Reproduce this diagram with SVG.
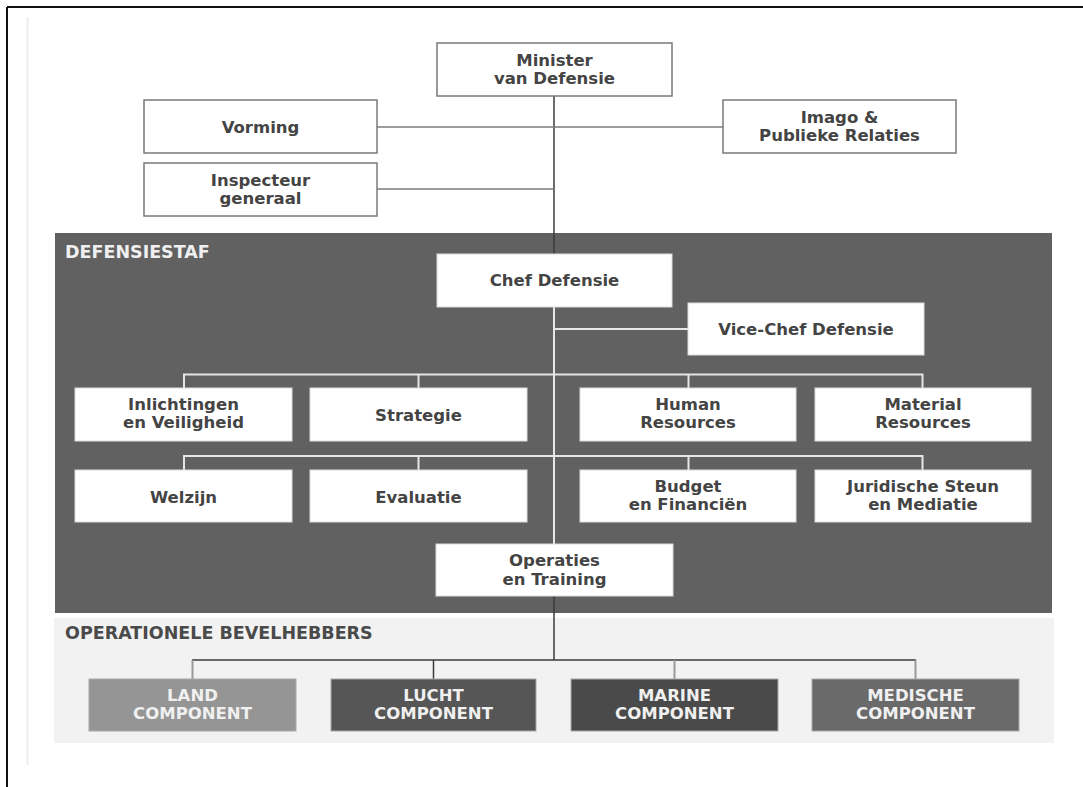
<svg xmlns="http://www.w3.org/2000/svg" width="1083" height="787" viewBox="0 0 1083 787">
<style>
  text { font-family: "DejaVu Sans", Verdana, sans-serif; font-weight: bold; font-size: 16.5px; text-anchor: middle; }
  .dark { fill: #444444; }
  .light { fill: #f0f0f0; }
  .box-out { fill: #ffffff; stroke: #7a7a7a; stroke-width: 1.5; }
  .box-in { fill: #ffffff; stroke: #dcdcdc; stroke-width: 1; }
  .comp { stroke: #a8a8a8; stroke-width: 1; }
  .section { font-size: 17.5px; text-anchor: start; }
  .c-dark { stroke: #3a3a3a; stroke-width: 1.5; fill: none; }
  .c-gray { stroke: #7a7a7a; stroke-width: 1.5; fill: none; }
  .c-white { stroke: #e6e6e6; stroke-width: 2; fill: none; }
  .c-drop { stroke: #9a9a9a; stroke-width: 2; fill: none; }
</style>
<rect x="0" y="0" width="1083" height="787" fill="#ffffff"/>
<g id="frame">
  <line x1="7" y1="7" x2="1083" y2="7" stroke="#111" stroke-width="2"/>
  <line x1="7" y1="7" x2="7" y2="787" stroke="#111" stroke-width="2"/>
  <line x1="27.5" y1="17" x2="27.5" y2="765" stroke="#eeeeee" stroke-width="2"/>
</g>
<g id="defensiestaf">
  <rect x="55" y="233" width="997" height="380" fill="#616161"/>
  <text class="section light" x="65" y="258">DEFENSIESTAF</text>
</g>
<g id="operationele-bevelhebbers">
  <rect x="54" y="618" width="1000" height="125" fill="#f2f2f2"/>
  <text class="section" x="65" y="639" fill="#4a4a4a">OPERATIONELE BEVELHEBBERS</text>
</g>
<g id="connectors">
  <line class="c-dark" x1="554" y1="96" x2="554" y2="254"/>
  <line class="c-gray" x1="377" y1="127" x2="723" y2="127"/>
  <line class="c-gray" x1="377" y1="189" x2="554" y2="189"/>
  <line class="c-white" x1="554" y1="307" x2="554" y2="544"/>
  <line class="c-white" x1="554" y1="329" x2="688" y2="329"/>
  <path class="c-white" d="M184 388 V374.5 H922.5 V388 M418.5 374.5 V388 M688.5 374.5 V388"/>
  <path class="c-white" d="M184 470 V456 H922.5 V470 M418.5 456 V470 M688.5 456 V470"/>
  <line class="c-dark" x1="554" y1="596" x2="554" y2="660"/>
  <line class="c-dark" x1="192" y1="660" x2="916" y2="660"/>
  <line class="c-drop" x1="192.5" y1="660" x2="192.5" y2="679"/>
  <line class="c-dark" x1="433.5" y1="660" x2="433.5" y2="679"/>
  <line class="c-drop" x1="674.5" y1="660" x2="674.5" y2="679"/>
  <line class="c-drop" x1="915.5" y1="660" x2="915.5" y2="679"/>
</g>
<g id="minister">
  <rect class="box-out" x="437" y="43" width="235" height="53"/>
  <text class="dark" x="554.5" y="65.5">Minister</text>
  <text class="dark" x="554.5" y="83.5">van Defensie</text>
</g>
<g id="vorming">
  <rect class="box-out" x="144" y="100" width="233" height="53"/>
  <text class="dark" x="260.5" y="133">Vorming</text>
</g>
<g id="inspecteur">
  <rect class="box-out" x="144" y="163" width="233" height="53"/>
  <text class="dark" x="260.5" y="185.5">Inspecteur</text>
  <text class="dark" x="260.5" y="203.5">generaal</text>
</g>
<g id="imago">
  <rect class="box-out" x="723" y="100" width="233" height="53"/>
  <text class="dark" x="839.5" y="122.5">Imago &amp;</text>
  <text class="dark" x="839.5" y="140.5">Publieke Relaties</text>
</g>
<g id="chef">
  <rect class="box-in" x="437" y="254" width="235" height="53"/>
  <text class="dark" x="554.5" y="285.5">Chef Defensie</text>
</g>
<g id="vice-chef">
  <rect class="box-in" x="688" y="303" width="236" height="52"/>
  <text class="dark" x="806" y="335">Vice-Chef Defensie</text>
</g>
<g id="inlichtingen">
  <rect class="box-in" x="75" y="388" width="217" height="53"/>
  <text class="dark" x="183.5" y="410">Inlichtingen</text>
  <text class="dark" x="183.5" y="428">en Veiligheid</text>
</g>
<g id="strategie">
  <rect class="box-in" x="310" y="388" width="217" height="53"/>
  <text class="dark" x="418.5" y="420.5">Strategie</text>
</g>
<g id="human-resources">
  <rect class="box-in" x="580" y="388" width="216" height="53"/>
  <text class="dark" x="688" y="410">Human</text>
  <text class="dark" x="688" y="428">Resources</text>
</g>
<g id="material-resources">
  <rect class="box-in" x="815" y="388" width="216" height="53"/>
  <text class="dark" x="923" y="410">Material</text>
  <text class="dark" x="923" y="428">Resources</text>
</g>
<g id="welzijn">
  <rect class="box-in" x="75" y="470" width="217" height="52"/>
  <text class="dark" x="183.5" y="502.5">Welzijn</text>
</g>
<g id="evaluatie">
  <rect class="box-in" x="310" y="470" width="217" height="52"/>
  <text class="dark" x="418.5" y="502.5">Evaluatie</text>
</g>
<g id="budget">
  <rect class="box-in" x="580" y="470" width="216" height="52"/>
  <text class="dark" x="688" y="492">Budget</text>
  <text class="dark" x="688" y="510">en Financiën</text>
</g>
<g id="juridische">
  <rect class="box-in" x="815" y="470" width="216" height="52"/>
  <text class="dark" x="923" y="492">Juridische Steun</text>
  <text class="dark" x="923" y="510">en Mediatie</text>
</g>
<g id="operaties">
  <rect class="box-in" x="436" y="544" width="237" height="52"/>
  <text class="dark" x="554.5" y="566">Operaties</text>
  <text class="dark" x="554.5" y="584.5">en Training</text>
</g>
<g id="land">
  <rect class="comp" x="89" y="679" width="207" height="52" fill="#959595"/>
  <text class="light" x="192.5" y="700.5">LAND</text>
  <text class="light" x="192.5" y="719">COMPONENT</text>
</g>
<g id="lucht">
  <rect class="comp" x="331" y="679" width="205" height="52" fill="#565656"/>
  <text class="light" x="433.5" y="700.5">LUCHT</text>
  <text class="light" x="433.5" y="719">COMPONENT</text>
</g>
<g id="marine">
  <rect class="comp" x="571" y="679" width="207" height="52" fill="#4a4a4a"/>
  <text class="light" x="674.5" y="700.5">MARINE</text>
  <text class="light" x="674.5" y="719">COMPONENT</text>
</g>
<g id="medische">
  <rect class="comp" x="812" y="679" width="207" height="52" fill="#6a6a6a"/>
  <text class="light" x="915.5" y="700.5">MEDISCHE</text>
  <text class="light" x="915.5" y="719">COMPONENT</text>
</g>
</svg>
